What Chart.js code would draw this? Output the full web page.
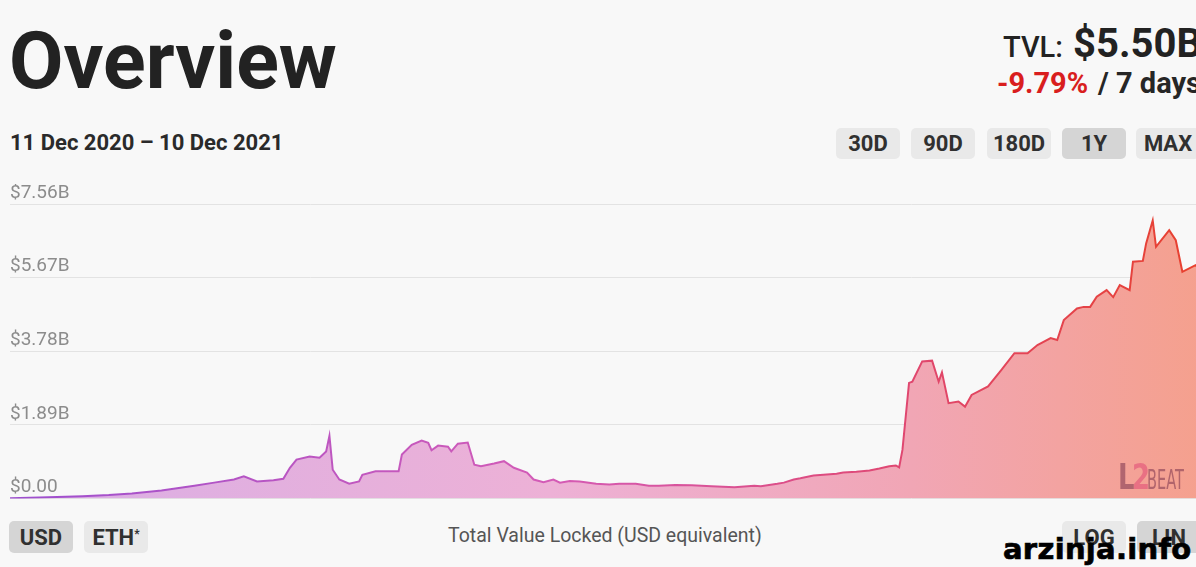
<!DOCTYPE html>
<html><head><meta charset="utf-8">
<script src="https://cdn.jsdelivr.net/npm/chart.js@4.4.0/dist/chart.umd.min.js"></script>
<style>
html,body{margin:0;padding:0;background:#f8f8f8;overflow:hidden;width:1196px;height:567px;font-family:Roboto,"Noto Sans",sans-serif;color:#262626;}
#page{position:absolute;left:0;top:0;width:1240px;height:567px;overflow:hidden;}
.t{position:absolute;white-space:nowrap;line-height:1;}
.btn{position:absolute;height:31px;border-radius:5px;background:#e9e9e9;font-weight:700;font-size:22px;display:flex;align-items:center;justify-content:center;color:#303030;width:64px;}
.btn.on{background:#d5d5d5;}
#box{position:absolute;left:0;top:184px;width:1222px;height:326px;}
sup{font-size:12px;position:relative;top:-3px;}
</style></head>
<body>
<div id="page">
  <div class="t" style="left:9px;top:21.5px;font-size:79px;font-weight:700;color:#222;">Overview</div>
  <div class="t" style="left:10px;top:131.5px;font-size:22px;font-weight:700;color:#2a2a2a;">11 Dec 2020 – 10 Dec 2021</div>

  <div class="t" style="left:1003px;top:32.6px;font-size:29px;font-weight:500;color:#222;">TVL:</div>
  <div class="t" style="left:1073px;top:23.5px;font-size:40px;font-weight:700;color:#222;">$5.50B</div>
  <div class="t" style="left:997px;top:68.6px;font-size:29px;font-weight:700;color:#d91e1e;">-9.79%</div>
  <div class="t" style="left:1098px;top:68.6px;font-size:29px;font-weight:700;color:#262626;">/ 7 days</div>

  <div class="btn" style="left:836px;top:128px;">30D</div>
  <div class="btn" style="left:911px;top:128px;">90D</div>
  <div class="btn" style="left:987px;top:128px;">180D</div>
  <div class="btn on" style="left:1062px;top:128px;">1Y</div>
  <div class="btn" style="left:1136px;top:128px;">MAX</div>

  <div id="box"><canvas id="c"></canvas></div>

  <div class="t" style="left:1118px;top:459px;color:rgba(110,40,70,0.5);font-family:'DejaVu Sans Condensed','Liberation Sans Narrow',sans-serif;">
    <span style="display:inline-block;font-size:36px;font-weight:700;letter-spacing:-3px;transform:scaleX(0.8);transform-origin:left;">L<span style="color:rgba(225,80,120,0.6)">2</span></span><span style="display:inline-block;font-size:27px;transform:scaleX(0.6);transform-origin:left;margin-left:-8px;">BEAT</span>
  </div>

  <div class="btn on" style="left:9px;top:521px;height:32px;">USD</div>
  <div class="btn" style="left:84px;top:521px;height:32px;">ETH<sup>*</sup></div>
  <div class="t" style="left:448px;top:525.6px;font-size:19.5px;color:#555;">Total Value Locked (USD equivalent)</div>
  <div class="btn" style="left:1062px;top:521px;height:32px;">LOG</div>
  <div class="btn on" style="left:1137px;top:521px;height:32px;">LIN</div>

  <div class="t" style="left:1003px;top:535px;font-size:29px;font-weight:700;letter-spacing:0.3px;color:#000;-webkit-text-stroke:0.7px #000;font-family:'DejaVu Sans',sans-serif;">arzinja.info</div>
</div>
<script>
// Days since 11 Dec 2020
const days = [0,9,22,30,37,46,56,62,68,71,75,80,83,85,87,91,94,96,97,98,100,103,106,107,111,118,119,122,125,127,128,130,133,134,136,139,141,143,147,150,153,157,159,162,165,167,170,173,178,182,185,190,194,197,202,207,213,220,223,226,228,233,235,238,240,244,247,251,253,257,261,264,267,269,270,271,273,274,277,280,282,283,285,288,290,292,297,301,305,309,312,316,318,320,324,326,328,330,333,335,337,340,341,344,345,347,348,352,354,356,360,363,365];
// Total value locked, billions USD
const tvl = [0.01,0.03,0.06,0.09,0.13,0.21,0.33,0.41,0.49,0.57,0.44,0.47,0.51,0.79,1.00,1.08,1.05,1.21,1.61,0.74,0.49,0.38,0.44,0.61,0.70,0.70,1.13,1.38,1.49,1.43,1.24,1.36,1.33,1.21,1.41,1.44,0.87,0.83,0.90,0.96,0.79,0.67,0.49,0.42,0.49,0.41,0.45,0.44,0.38,0.36,0.38,0.38,0.33,0.33,0.35,0.34,0.32,0.29,0.31,0.33,0.32,0.38,0.41,0.49,0.52,0.59,0.61,0.64,0.67,0.69,0.72,0.77,0.83,0.85,0.80,1.25,2.97,3.00,3.52,3.54,3.00,3.24,2.45,2.49,2.36,2.66,2.88,3.30,3.73,3.73,3.94,4.12,4.07,4.58,4.88,4.92,4.92,5.18,5.35,5.17,5.48,5.35,6.08,6.10,6.55,7.14,6.46,6.89,6.63,5.82,5.99,5.74,5.50];
const tickValues = [0, 1.89, 3.78, 5.67, 7.56];
const tickLabels = ["$0.00", "$1.89B", "$3.78B", "$5.67B", "$7.56B"];

function grad(chart, stops) {
  const a = chart.chartArea;
  if (!a) return null;
  const g = chart.ctx.createLinearGradient(a.left, 0, a.right, 0);
  stops.forEach(s => g.addColorStop(s[0], s[1]));
  return g;
}
const lineStops = [[0,'#9d4fcf'],[0.45,'#d45bb6'],[0.75,'#e0476f'],[1,'#e8402a']];
const fillStops = [[0,'#d9aee6'],[0.45,'#edb1d6'],[0.75,'#f1a6b5'],[1,'#f5a08c']];

new Chart(document.getElementById('c'), {
  type: 'line',
  data: {
    datasets: [{
      data: days.map((d, i) => ({x: d, y: tvl[i]})),
      borderColor: ctx => grad(ctx.chart, lineStops),
      backgroundColor: ctx => grad(ctx.chart, fillStops),
      fill: 'origin',
      borderWidth: 2,
      pointRadius: 0,
      tension: 0
    }]
  },
  options: {
    responsive: true,
    maintainAspectRatio: false,
    animation: false,
    layout: {padding: {left: 10, right: 10, top: 20, bottom: 10}},
    plugins: {legend: {display: false}, tooltip: {enabled: false}},
    scales: {
      x: {type: 'linear', min: 0, max: 365, display: false},
      y: {
        min: 0, max: 7.56,
        afterBuildTicks: s => { s.ticks = tickValues.map(v => ({value: v})); },
        border: {display: false},
        grid: {color: '#e3e3e3', drawTicks: false, lineWidth: 1},
        ticks: {
          mirror: true, padding: 0, labelOffset: -11,
          color: '#8c8c8c',
          font: {family: 'Roboto', size: 19},
          callback: (v, i) => tickLabels[i]
        }
      }
    }
  }
});
</script>
</body></html>
